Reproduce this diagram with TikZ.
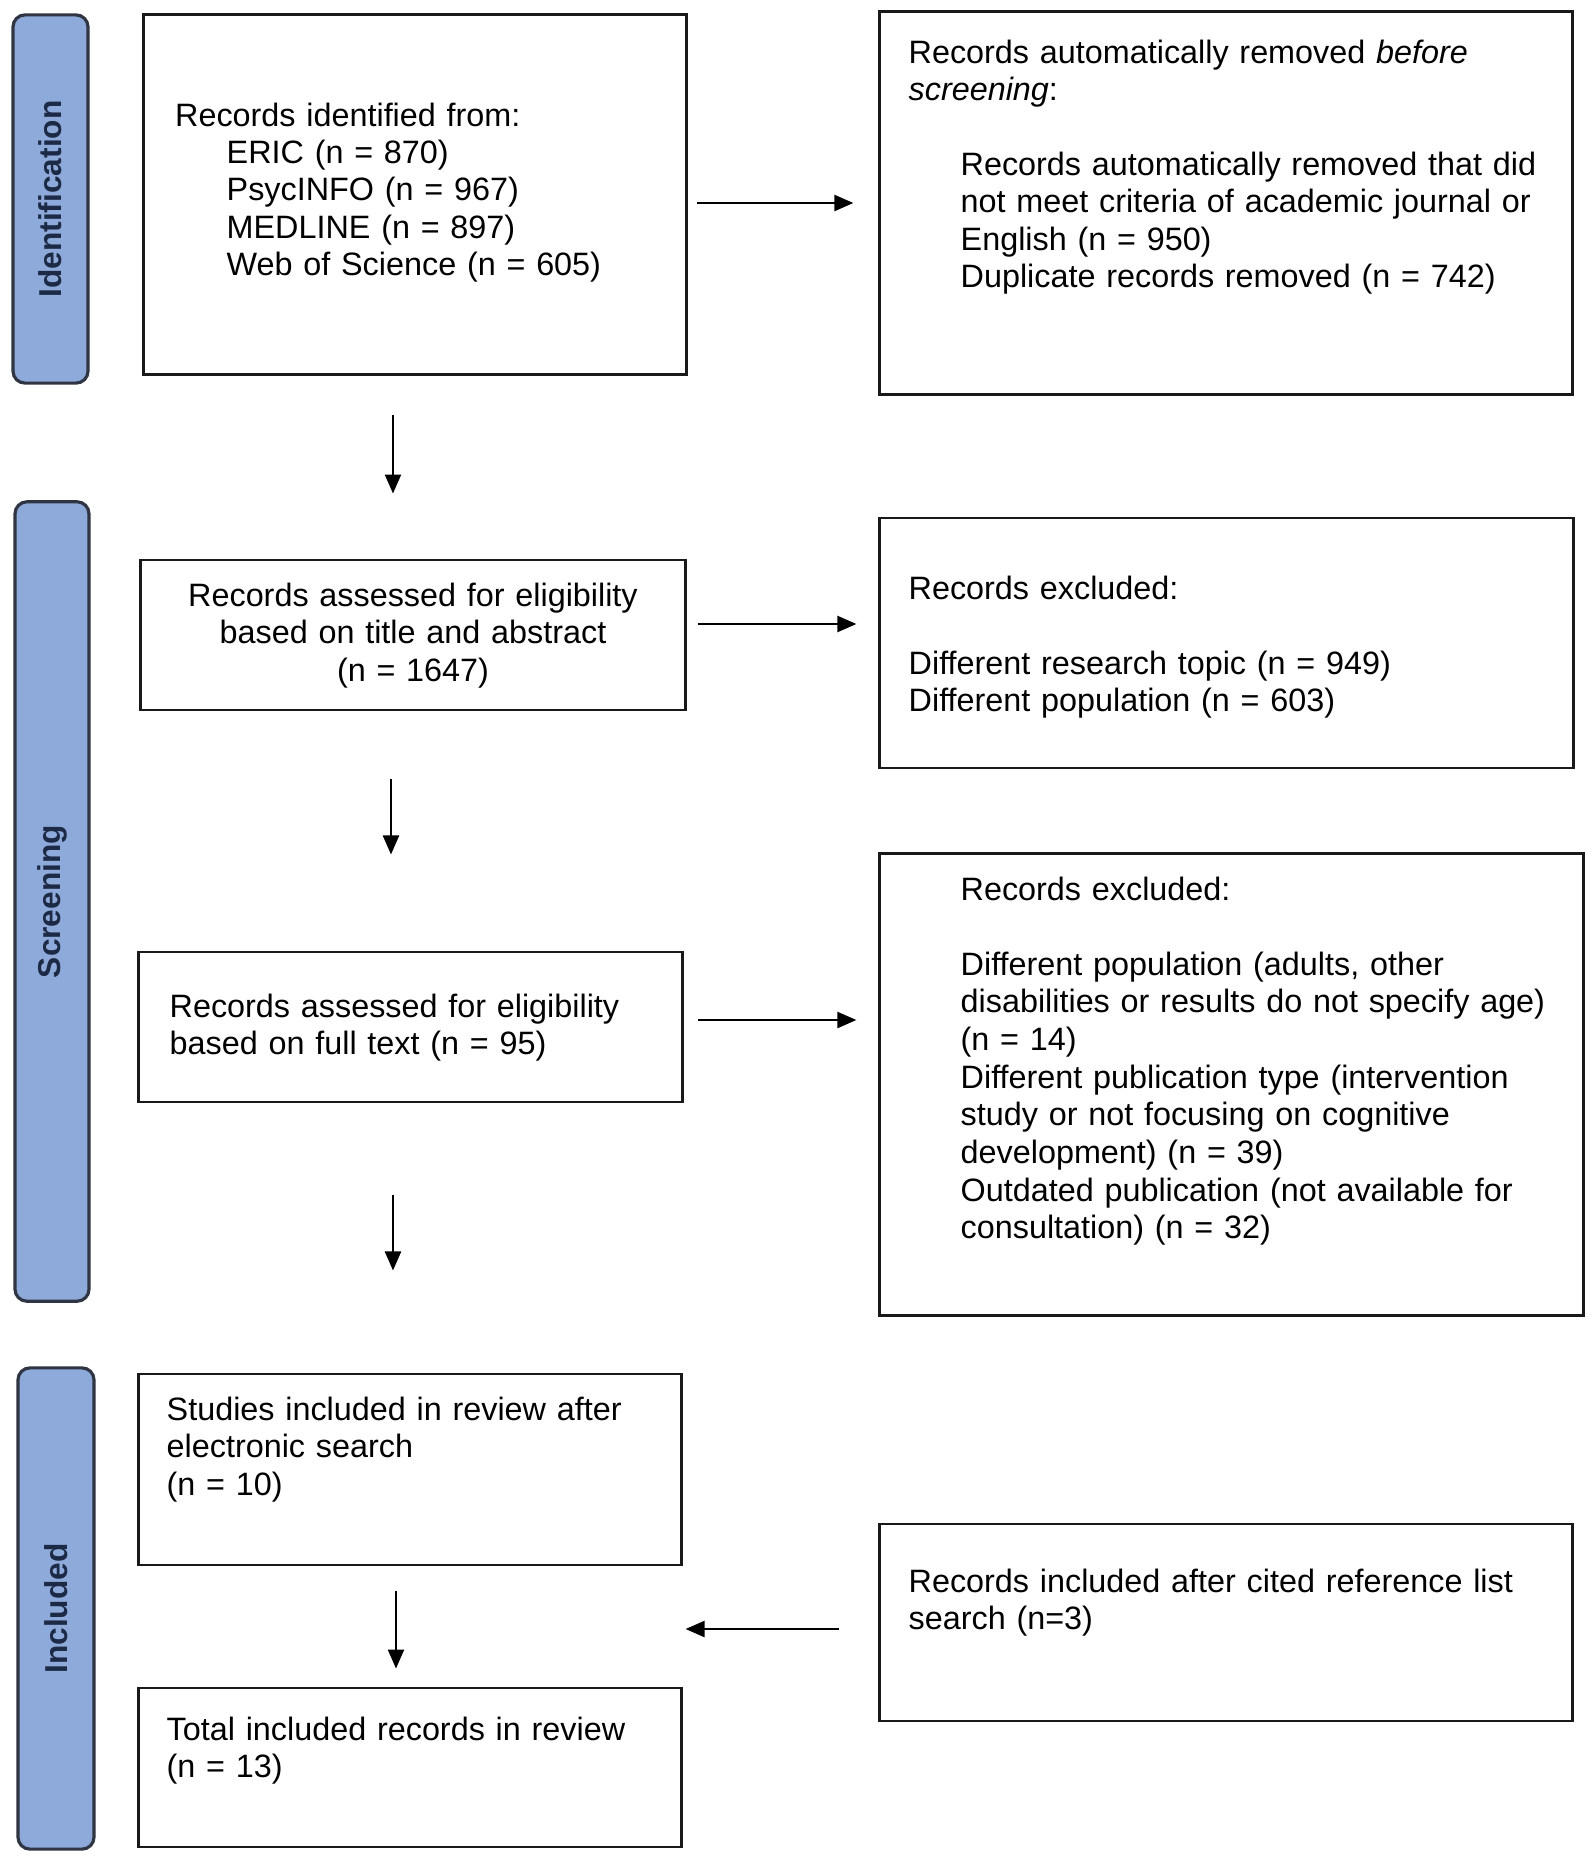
\documentclass[tikz,border=0pt]{standalone}
\usepackage{fontspec}
\setmainfont{Liberation Sans}
\usepackage{tikz}
\usetikzlibrary{arrows.meta,positioning,calc}

\definecolor{phasefill}{HTML}{8EAADB}
\definecolor{phaseline}{HTML}{2F3542}
\definecolor{phasetext}{HTML}{1C2A45}

\begin{document}
\begin{tikzpicture}[x=0.01cm,y=-0.01cm,
    box/.style={draw=black!90,line width=0.8pt,inner sep=0pt},
    phase/.style={draw=phaseline,line width=0.9pt,fill=phasefill,rounded corners=0.12cm,
        rotate=90,inner sep=0pt,text=phasetext,font=\fontsize{9}{10}\selectfont\bfseries},
    txt/.style={anchor=base west,inner sep=0pt,align=left,text width=6.6cm,
        font=\fontsize{9.2}{10.7}\selectfont},
    arr/.style={line width=0.65pt,-{Triangle[length=0.19cm,width=0.16cm]}}]
    \useasboundingbox (0,0) rectangle (1595,1863);

    % Phase bars
    \node[phase,minimum width=3.68cm,minimum height=0.75cm] (identbar) at (50.5,199) {Identification};
    \node[phase,minimum width=7.99cm,minimum height=0.74cm] (screenbar) at (52,901.5) {Screening};
    \node[phase,minimum width=4.81cm,minimum height=0.76cm] (inclbar) at (56,1608.5) {Included};

    % Identification
    \node[box,minimum width=5.42cm,minimum height=3.59cm] (ident) at (415,194.5) {};
    \node[txt] (ident-head) at (174.5,126) {Records identified from:};
    \node[txt] (ident-list) at (226,163) {ERIC (n = 870)\\PsycINFO (n = 967)\\MEDLINE (n = 897)\\Web of Science (n = 605)};

    \node[box,minimum width=6.92cm,minimum height=3.82cm] (removed) at (1226,203) {};
    \node[txt] (removed-head) at (908,63) {Records automatically removed \textit{before}\\\textit{screening}:};
    \node[txt] (removed-list) at (960,175) {Records automatically removed that did\\not meet criteria of academic journal or\\English (n = 950)\\Duplicate records removed (n = 742)};

    % Screening
    \node[box,minimum width=5.44cm,minimum height=1.5cm] (tiab) at (413,635) {};
    \node[txt,anchor=base,align=center,text width=5.4cm] (tiab-t) at (413,606) {Records assessed for eligibility\\based on title and abstract\\(n = 1647)};

    \node[box,minimum width=6.93cm,minimum height=2.5cm] (excl1) at (1226.5,643) {};
    \node[txt] (excl1-t) at (908,599) {Records excluded:\\[10.7pt]Different research topic (n = 949)\\Different population (n = 603)};

    \node[box,minimum width=5.43cm,minimum height=1.5cm] (full) at (410.5,1027) {};
    \node[txt] (full-t) at (169,1017) {Records assessed for eligibility\\based on full text (n = 95)};

    \node[box,minimum width=7.03cm,minimum height=4.61cm] (excl2) at (1231.5,1084.5) {};
    \node[txt] (excl2-t) at (960,900) {Records excluded:\\[10.7pt]Different population (adults, other\\disabilities or results do not specify age)\\(n = 14)\\Different publication type (intervention\\study or not focusing on cognitive\\development) (n = 39)\\Outdated publication (not available for\\consultation) (n = 32)};

    % Included
    \node[box,minimum width=5.42cm,minimum height=1.91cm] (studies) at (410,1469.5) {};
    \node[txt] (studies-t) at (166,1420) {Studies included in review after\\electronic search\\(n = 10)};

    \node[box,minimum width=5.42cm,minimum height=1.59cm] (total) at (410,1767.5) {};
    \node[txt] (total-t) at (166,1740) {Total included records in review\\(n = 13)};

    \node[box,minimum width=6.92cm,minimum height=1.97cm] (cited) at (1226,1622.5) {};
    \node[txt] (cited-t) at (908,1592) {Records included after cited reference list\\search (n=3)};

    % Arrows
    \draw[arr,shorten <=0.09cm,shorten >=0.25cm] (ident.east |- removed.west) -- (removed.west);
    \draw[arr,shorten <=0.11cm,shorten >=0.22cm] ([yshift=0.11cm]tiab.east) -- ([yshift=0.11cm]tiab.east -| excl1.west);
    \draw[arr,shorten <=0.14cm,shorten >=0.22cm] ([yshift=0.07cm]full.east) -- ([yshift=0.07cm]full.east -| excl2.west);
    \draw[arr,shorten <=0.39cm,shorten >=0.03cm] ([yshift=-0.065cm]cited.west) -- ([yshift=-0.065cm]cited.west -| studies.east);
    \draw[arr,shorten <=0.39cm,shorten >=0.65cm] ([xshift=-0.22cm]ident.south) -- ([xshift=-0.22cm]ident.south |- tiab.north);
    \draw[arr,shorten <=0.67cm,shorten >=0.96cm] ([xshift=-0.22cm]tiab.south) -- ([xshift=-0.22cm]tiab.south |- full.north);
    \draw[arr,shorten <=0.91cm,shorten >=1.02cm] ([xshift=-0.175cm]full.south) -- ([xshift=-0.175cm]full.south |- studies.north);
    \draw[arr,shorten <=0.25cm,shorten >=0.18cm] ([xshift=-0.14cm]studies.south) -- ([xshift=-0.14cm]studies.south |- total.north);
\end{tikzpicture}
\end{document}
